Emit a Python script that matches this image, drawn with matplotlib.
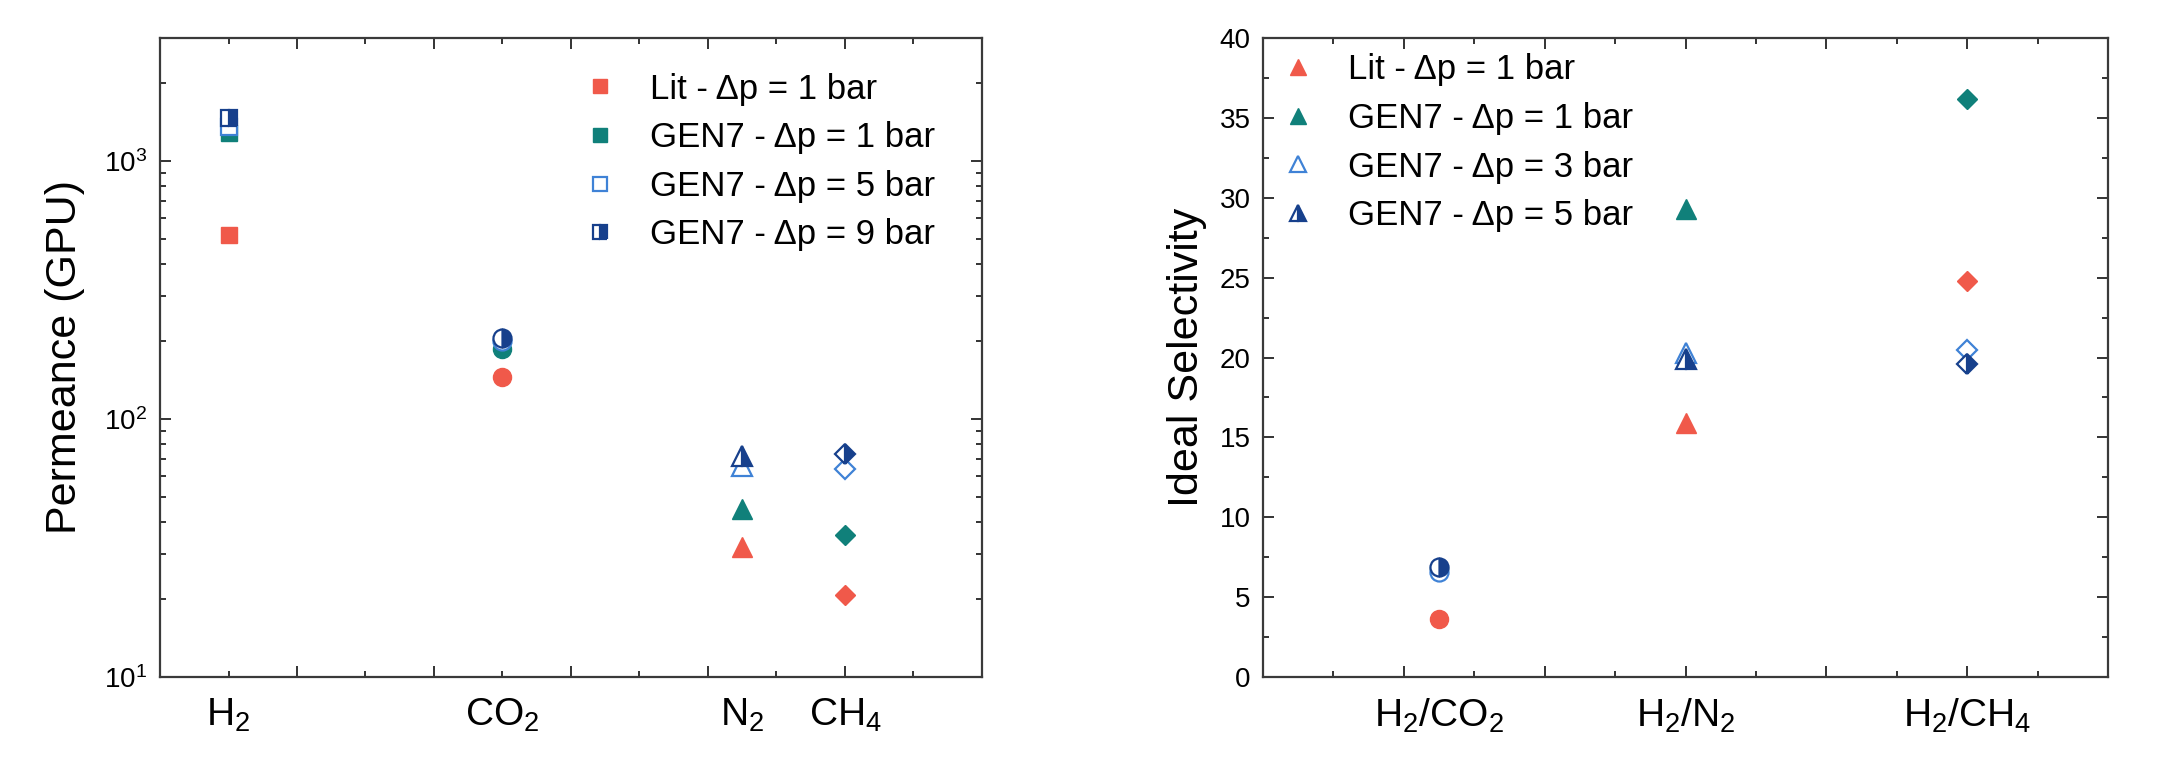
import matplotlib
matplotlib.use('Agg')
import matplotlib.pyplot as plt
from matplotlib.lines import Line2D
from matplotlib.ticker import MultipleLocator

plt.rcParams['font.family'] = ['Liberation Sans', 'DejaVu Sans']
plt.rcParams['axes.linewidth'] = 1.6

# ── data ────────────────────────────────────────────────────
gases = [r'$\mathregular{H_2}$', r'$\mathregular{CO_2}$',
         r'$\mathregular{N_2}$', r'$\mathregular{CH_4}$']
gas_x = [0.5, 2.5, 4.25, 5.0]
gas_markers = ['s', 'o', '^', 'D']

perm_lit = [515, 145, 32, 20.8]
perm_gen7_1 = [1290, 187, 44.6, 35.5]
perm_gen7_5 = [1360, 200, 66, 64]
perm_gen7_9 = [1470, 206, 72, 73]
perm_labels = ['Lit - Δp = 1 bar', 'GEN7 - Δp = 1 bar',
               'GEN7 - Δp = 5 bar', 'GEN7 - Δp = 9 bar']

pairs = [r'$\mathregular{H_2/CO_2}$', r'$\mathregular{H_2/N_2}$',
         r'$\mathregular{H_2/CH_4}$']
pair_x = [1.25, 3.0, 5.0]
pair_markers = ['o', '^', 'D']

sel_lit = [3.6, 15.9, 24.8]
sel_gen7_1 = [6.8, 29.3, 36.2]
sel_gen7_3 = [6.6, 20.3, 20.5]
sel_gen7_5 = [6.9, 19.9, 19.6]
sel_labels = ['Lit - Δp = 1 bar', 'GEN7 - Δp = 1 bar',
              'GEN7 - Δp = 3 bar', 'GEN7 - Δp = 5 bar']

# ── styles ──────────────────────────────────────────────────
RED = '#F0594A'
TEAL = '#10807A'
LBLUE = '#3F82D6'
NAVY = '#17408C'

STYLES = [
    dict(mfc=RED, mec=RED, mew=1.0),
    dict(mfc=TEAL, mec=TEAL, mew=1.0),
    dict(mfc='white', mec=LBLUE, mew=1.6),
    dict(mfc=NAVY, mfcalt='white', mec=NAVY, mew=1.6, fillstyle='right'),
]
MSIZE = {'s': 12, 'o': 13, '^': 14, 'D': 10.5}


def draw_series(ax, xs, markers, series):
    for k, vals in enumerate(series):
        for x, y, m in zip(xs, vals, markers):
            ax.plot(x, y, marker=m, ls='none', ms=MSIZE[m], zorder=3 + k,
                    **STYLES[k])


def style_axes(ax, cat_x, cat_labels):
    ax.set_xlim(0, 6)
    ax.xaxis.set_major_locator(MultipleLocator(1))
    ax.xaxis.set_minor_locator(MultipleLocator(0.5))
    ax.tick_params(axis='x', which='both', labelbottom=False)
    ax.tick_params(which='both', direction='in', top=True, right=True,
                   labelsize=20, color='#333333', width=1.4)
    ax.tick_params(axis='y', which='major', pad=9)
    ax.tick_params(which='major', length=8)
    ax.tick_params(which='minor', length=4.5)
    for sp in ax.spines.values():
        sp.set_color('#3a3a3a')
    sec = ax.secondary_xaxis('bottom')
    sec.set_xticks(cat_x, labels=cat_labels)
    sec.tick_params(length=0, pad=14, labelsize=28)
    sec.spines['bottom'].set_visible(False)


def legend_handles(marker, labels, ms):
    return [Line2D([], [], marker=marker, ls='none', ms=ms,
                   label=lab, **st) for st, lab in zip(STYLES, labels)]


fig = plt.figure(figsize=(21.78, 7.71), dpi=100)
W, H = 2178, 771
bottom = 1 - 677 / H
height = (677 - 38) / H
ax1 = fig.add_axes([160 / W, bottom, (982 - 160) / W, height])
ax2 = fig.add_axes([1263 / W, bottom, (2108 - 1263) / W, height])

# ── permeance ───────────────────────────────────────────────
draw_series(ax1, gas_x, gas_markers,
            [perm_lit, perm_gen7_1, perm_gen7_5, perm_gen7_9])
ax1.set_yscale('log')
ax1.set_ylim(10, 3000)
style_axes(ax1, gas_x, gases)
ax1.set_ylabel('Permeance (GPU)', fontsize=31, labelpad=14)
ax1.legend(handles=legend_handles('s', perm_labels, 10), loc='upper left',
           bbox_to_anchor=(0.514, 0.946), frameon=False, fontsize=25,
           handlelength=1.0, handletextpad=0.95, labelspacing=0.45,
           borderpad=0, borderaxespad=0)

# ── selectivity ─────────────────────────────────────────────
draw_series(ax2, pair_x, pair_markers,
            [sel_lit, sel_gen7_1, sel_gen7_3, sel_gen7_5])
ax2.set_ylim(0, 40)
ax2.yaxis.set_major_locator(MultipleLocator(5))
ax2.yaxis.set_minor_locator(MultipleLocator(2.5))
style_axes(ax2, pair_x, pairs)
ax2.set_ylabel('Ideal Selectivity', fontsize=31, labelpad=9)
ax2.legend(handles=legend_handles('^', sel_labels, 12), loc='upper left',
           bbox_to_anchor=(0.021, 0.976), frameon=False, fontsize=25,
           handlelength=1.0, handletextpad=0.95, labelspacing=0.45,
           borderpad=0, borderaxespad=0)

fig.savefig('out.png', dpi=100)
